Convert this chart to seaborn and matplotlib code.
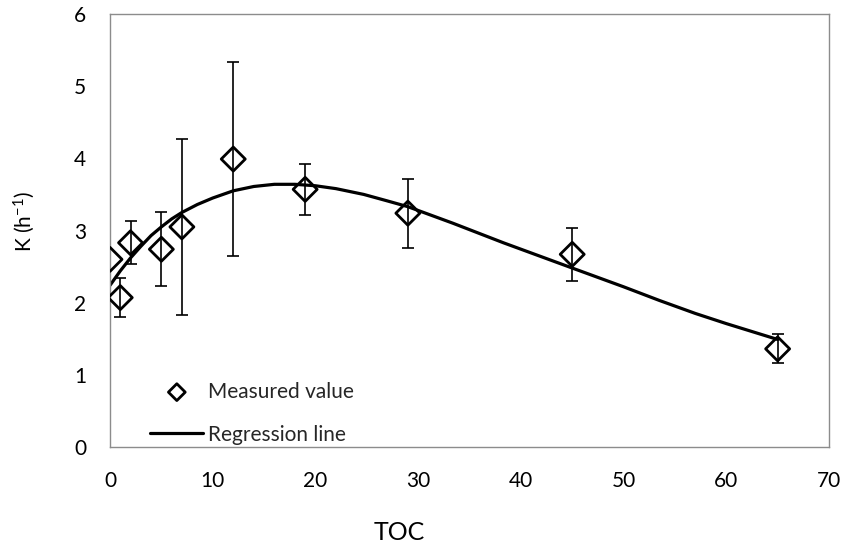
import numpy as np
import pandas as pd
import matplotlib
matplotlib.use("Agg")
import matplotlib.pyplot as plt
import seaborn as sns

# Measured values
toc = [0, 1, 2, 5, 7, 12, 19, 29, 45, 65]
k_measured = [2.60, 2.07, 2.83, 2.74, 3.05, 3.99, 3.57, 3.24, 2.67, 1.36]
k_error = [0.0, 0.27, 0.30, 0.51, 1.22, 1.34, 0.35, 0.48, 0.37, 0.20]

# Regression line
curve_toc = [0, 1, 2, 3, 4, 5, 6, 7, 8.5, 10, 12, 14, 16, 18, 20, 22, 24.7,
             27, 29, 33.4, 38.3, 45, 50, 53.5, 57, 60, 65]
curve_k = [2.24, 2.44, 2.62, 2.78, 2.93, 3.05, 3.16, 3.25, 3.36, 3.45, 3.55,
           3.61, 3.64, 3.64, 3.62, 3.58, 3.50, 3.41, 3.33, 3.10, 2.83, 2.48,
           2.22, 2.03, 1.85, 1.71, 1.49]

x_ticks = [0, 10, 20, 30, 40, 50, 60, 70]
y_ticks = [0, 1, 2, 3, 4, 5, 6]

sns.set_theme(style="white")
plt.rcParams['font.family'] = ['Lato', 'DejaVu Sans']
plt.rcParams['mathtext.fontset'] = 'custom'
plt.rcParams['mathtext.rm'] = 'Lato'
plt.rcParams['mathtext.it'] = 'Lato:italic'

df = pd.DataFrame({"TOC": toc, "K": k_measured, "err": k_error})
dcurve = pd.DataFrame({"TOC": curve_toc, "K": curve_k})

fig = plt.figure(figsize=(8.46, 5.5), dpi=100)
ax = fig.add_axes([110/846, 1-447/550, (829-110)/846, (447-14)/550])

sns.lineplot(data=dcurve, x="TOC", y="K", ax=ax, color="black", lw=2.3,
             label="Regression line", sort=True, zorder=2)

de = df[df["err"] > 0]
ax.errorbar(de["TOC"], de["K"], yerr=de["err"], fmt="none", ecolor="black",
            elinewidth=1.2, capsize=4, capthick=1.2, zorder=3)

sns.scatterplot(data=df, x="TOC", y="K", ax=ax, marker="D", s=150,
                facecolor="none", edgecolor="black", linewidth=2.0,
                label="Measured value", zorder=4)

ax.set_xlim(0, 70)
ax.set_ylim(0, 6)
ax.set_xticks(x_ticks)
ax.set_yticks(y_ticks)
ax.tick_params(axis="both", length=0, labelsize=15, colors="black")
ax.tick_params(axis="y", pad=17)
ax.tick_params(axis="x", pad=17)

for s in ax.spines.values():
    s.set_color("#8c8c8c")
    s.set_linewidth(1.0)
    s.set_visible(True)

ax.set_xlabel("TOC", fontsize=18, color="black", va="center", ha="center")
ax.xaxis.set_label_coords((399-110)/719, (447-532)/433)
ax.set_ylabel("K (h$^{-1}$)", fontsize=15, color="black", va="center", ha="center")
ax.yaxis.set_label_coords((24.5-110)/719, (447-222)/433)

handles, labels = ax.get_legend_handles_labels()
order = [labels.index("Measured value"), labels.index("Regression line")]
leg = ax.legend([handles[i] for i in order], [labels[i] for i in order],
                loc="upper left", bbox_to_anchor=(0.056, 0.151), frameon=False,
                fontsize=15, handlelength=2.55, handletextpad=0.2,
                labelspacing=1.1, borderpad=0, borderaxespad=0, markerscale=0.7)

fig.savefig("out.png", dpi=100)
